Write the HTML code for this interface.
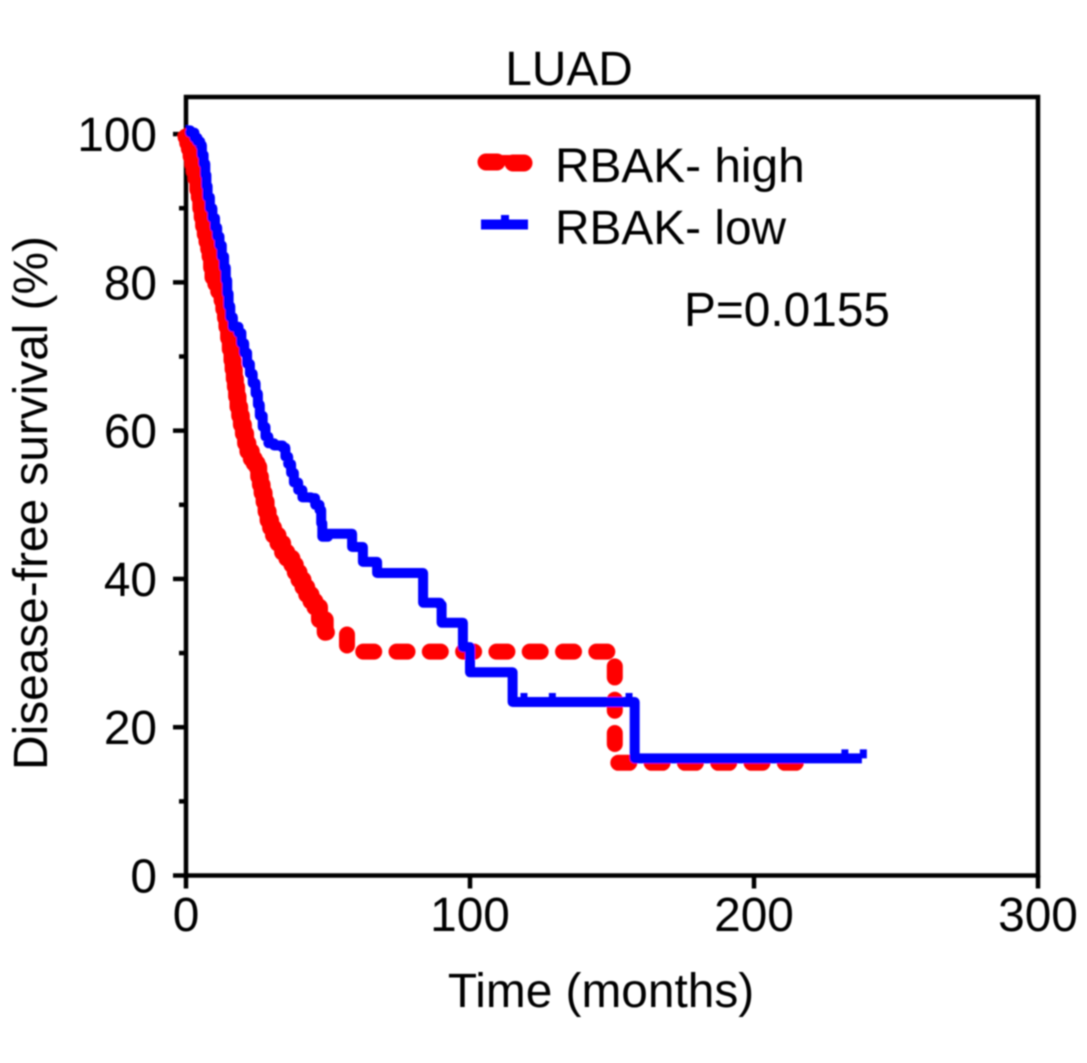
<!DOCTYPE html>
<html lang="en">
<head>
<meta charset="utf-8">
<title>LUAD disease-free survival</title>
<style>
html,body{margin:0;padding:0;background:#fff;}
svg{display:block;}
text{font-family:"Liberation Sans",Arial,sans-serif;fill:#000;font-size:47.8px;}
</style>
</head>
<body>
<svg id="chart" xmlns="http://www.w3.org/2000/svg" width="1087" height="1063" viewBox="0 0 1087 1063">
<defs><filter id="soft" x="-5%" y="-5%" width="110%" height="110%"><feGaussianBlur stdDeviation="0.8"/></filter></defs>
<g id="root" filter="url(#soft)">
<text x="569" y="85" text-anchor="middle">LUAD</text>
<text transform="translate(47,503) rotate(-90)" text-anchor="middle">Disease-free survival (%)</text>
<text x="601" y="1007" text-anchor="middle">Time (months)</text>
<text x="684" y="326">P=0.0155</text>
<g stroke="#ff0000" stroke-linecap="round">
<line x1="486" y1="162" x2="497" y2="162" stroke-width="17"/>
<line x1="513" y1="163" x2="524" y2="163" stroke-width="17"/>
<line x1="498" y1="158.5" x2="512" y2="158.5" stroke-width="7"/>
</g>
<line x1="481" y1="224.5" x2="528" y2="224.5" stroke="#0000ff" stroke-width="10"/>
<line x1="505" y1="225" x2="505" y2="215" stroke="#0000ff" stroke-width="8"/>
<text x="555" y="182">RBAK- high</text>
<text x="555" y="244">RBAK- low</text>
</g>
</svg>
<script>
var xTicks = [0, 100, 200, 300];
var yTicks = [0, 20, 40, 60, 80, 100];
var yMinorTicks = [10, 30, 50, 70, 90];
var xMax = 300;
var yMax = 105;

var highTime = [0, 0.6, 1.2, 1.8, 2.4, 3, 3.6, 4.2, 4.7, 5.2, 5.7, 6.2, 6.8, 7.4, 8, 8.5, 9, 9.5, 10.5, 11.5, 12.7, 13.3, 13.9, 14.4, 15, 15.6, 16.2, 16.6, 17, 17.4, 17.8, 18.3, 18.9, 19.5, 20.2, 21, 21.8, 23, 24, 25, 25.6, 26.2, 26.8, 27.5, 28.2, 28.9, 29.8, 30.8, 32.4, 34, 35.5, 37.3, 38.5, 39.8, 41.2, 42.5, 44, 45.4, 47, 49, 56.7, 151, 216];
var highSurvival = [99.6, 98.8, 98, 97, 96, 95, 94, 92.5, 91.5, 90, 88.8, 87.6, 86.5, 85.5, 84.5, 83.5, 82, 80.7, 79.8, 78.8, 77.6, 76.4, 75.2, 74, 72.5, 71, 69.5, 68.3, 67, 65.9, 64.6, 63.2, 62, 60.8, 59.6, 58.3, 57.2, 56.2, 55.6, 55.1, 53.8, 52.7, 51.6, 50.4, 49.1, 47.9, 46.9, 45.9, 44.8, 43.6, 42.8, 41.9, 40.9, 39.9, 38.9, 37.9, 37, 36.2, 34.5, 32.8, 30.2, 15.2, 15.2];

var lowTime = [0, 1.5, 3, 4, 5, 5.6, 6.2, 6.8, 7.2, 7.6, 8.4, 9.3, 10.2, 11, 11.8, 12.6, 13.4, 14, 14.5, 15, 15.6, 16.5, 18.5, 19.5, 20.5, 21.5, 22.5, 23.5, 24.5, 25.3, 26, 27, 28, 29, 31, 34, 35, 36, 37, 38, 39.5, 41, 44, 45.5, 47, 47.6, 48, 50, 57.5, 58.5, 62.3, 67.3, 83.5, 89.4, 90, 97.5, 100, 115, 158, 238];
var lowSurvival = [100.5, 100.2, 99.5, 99, 98.5, 97.2, 96, 94.5, 93, 91.5, 90, 88.7, 87.4, 86.2, 85, 83.5, 82, 80.3, 78.5, 76.8, 75.3, 74, 73.2, 71.8, 70.5, 69, 67.7, 66.4, 65, 63.5, 62, 60.5, 59.2, 58.3, 58, 57.7, 56.5, 55.5, 54.3, 53, 52, 51, 50.9, 50, 49.3, 47.5, 45.7, 46.1, 46.1, 44.3, 42.3, 40.8, 36.8, 36.5, 34.1, 30.8, 27.4, 23.4, 15.8, 15.8];
var lowCensorTime = [119, 129, 156, 232, 238.5];
var lowCensorSurvival = [23.4, 23.4, 23.4, 15.8, 15.8];

var solidUntil = 49;
var dashAnchorTime = 62.4;

var NS = 'http://www.w3.org/2000/svg';
var plotLeft = 186, plotRight = 1038, plotTop = 97, plotBottom = 875.5;
function xScale(v) { return plotLeft + v / xMax * (plotRight - plotLeft); }
function yScale(v) { return plotBottom - v / yMax * (plotBottom - plotTop); }
var root = document.getElementById('root');

function make(tag, attrs, parent) {
  var el = document.createElementNS(NS, tag);
  for (var k in attrs) { el.setAttribute(k, attrs[k]); }
  (parent || root).insertBefore(el, parent ? null : root.firstChild);
  return el;
}
function stepPath(ts, ss) {
  var d = 'M' + xScale(ts[0]).toFixed(1) + ' ' + yScale(ss[0]).toFixed(1);
  for (var i = 1; i < ts.length; i++) {
    d += 'H' + xScale(ts[i]).toFixed(1) + 'V' + yScale(ss[i]).toFixed(1);
  }
  return d;
}
function upTo(arr, ts, limit) {
  return arr.filter(function (_, i) { return ts[i] <= limit; });
}

var marks = document.createElementNS(NS, 'g');


root.appendChild(marks);

var highUnder = make('path', {d: stepPath(upTo(highTime, highTime, solidUntil), upTo(highSurvival, highTime, solidUntil)), fill: 'none', stroke: '#ff0000', 'stroke-width': 17, 'stroke-linecap': 'round', 'stroke-linejoin': 'round'}, marks);



var highLine = make('path', {d: stepPath(upTo(highTime, highTime, dashAnchorTime), upTo(highSurvival, highTime, dashAnchorTime)) + 'H' + xScale(dashAnchorTime), fill: 'none', stroke: '#ff0000', 'stroke-width': 16, 'stroke-linecap': 'round', 'stroke-linejoin': 'round', 'stroke-dasharray': '11 22.3'}, marks);


document.body.offsetHeight;
var anchorLength = highLine.getTotalLength();
highLine.setAttribute('d', stepPath(highTime, highSurvival));
highLine.setAttribute('stroke-dashoffset', -anchorLength);

var lowLine = make('path', {d: stepPath(lowTime, lowSurvival), fill: 'none', stroke: '#0000ff', 'stroke-width': 10, 'stroke-linejoin': 'round'}, marks);



lowCensorTime.forEach(function (t, i) {
  var c = make('line', {x1: xScale(t), x2: xScale(t), y1: yScale(lowCensorSurvival[i]), y2: yScale(lowCensorSurvival[i]) - 9, stroke: '#0000ff', 'stroke-width': 7}, marks);
  
  
});

var axes = document.createElementNS(NS, 'g');


root.insertBefore(axes, marks);

var frame = make('rect', {x: plotLeft, y: plotTop, width: plotRight - plotLeft, height: plotBottom - plotTop, fill: 'none', stroke: '#000', 'stroke-width': 4.5}, axes);



xTicks.forEach(function (v) {
  var t = make('line', {x1: xScale(v), x2: xScale(v), y1: plotBottom, y2: plotBottom + 13, stroke: '#000', 'stroke-width': 4.5}, axes);
  
  
  var l = make('text', {x: xScale(v), y: 931, 'text-anchor': 'middle'}, axes);
  
  
  l.textContent = v;
});
yTicks.forEach(function (v) {
  var t = make('line', {x1: plotLeft - 13, x2: plotLeft, y1: yScale(v), y2: yScale(v), stroke: '#000', 'stroke-width': 4.5}, axes);
  
  
  var l = make('text', {x: 157, y: yScale(v) + 17, 'text-anchor': 'end'}, axes);
  
  
  l.textContent = v;
});
yMinorTicks.forEach(function (v) {
  var t = make('line', {x1: plotLeft - 7, x2: plotLeft, y1: yScale(v), y2: yScale(v), stroke: '#000', 'stroke-width': 4.5}, axes);
  
  
});
</script>
</body>
</html>
